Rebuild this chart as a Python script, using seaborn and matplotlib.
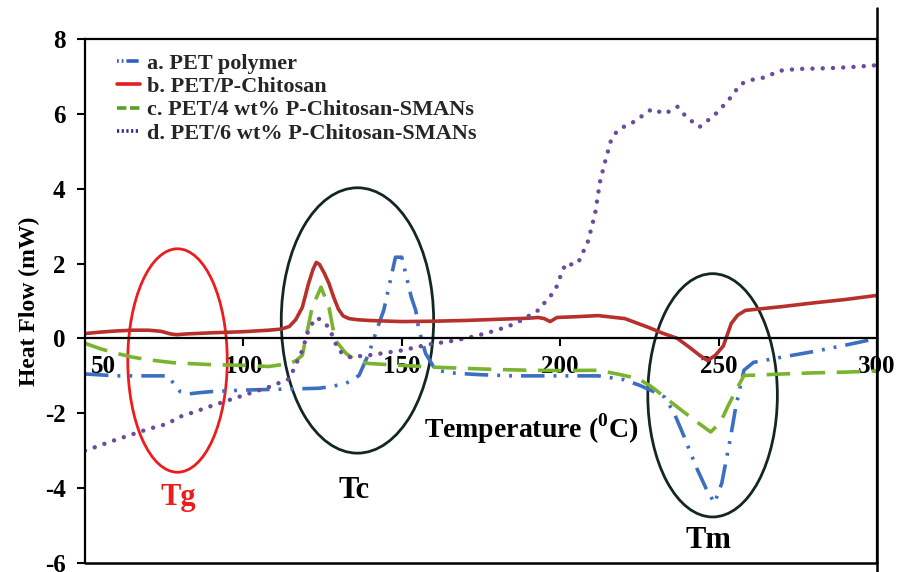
import matplotlib
matplotlib.use("Agg")
import matplotlib.pyplot as plt
import matplotlib.transforms as mtransforms
from matplotlib.patches import Ellipse
from matplotlib.lines import Line2D
import seaborn as sns

# ---------------- data ----------------
series_labels = ["a. PET polymer", "b. PET/P-Chitosan",
                 "c. PET/4 wt% P-Chitosan-SMANs", "d. PET/6 wt% P-Chitosan-SMANs"]

temp_a = [50, 60, 70, 76, 78, 80, 83, 86, 90, 100, 110, 120, 124, 128, 132.4, 136.5,
          139.6, 142.8, 144.3, 148, 150, 153, 154.4, 155.3, 157.5, 160.7, 167, 175, 185,
          200, 212, 220, 225, 229, 233, 236, 239, 243, 246, 248.7, 251, 253.8, 255.4,
          258, 261, 270, 280, 290, 300]
flow_a = [-0.95, -1.0, -1.0, -1.0, -1.2, -1.42, -1.48, -1.45, -1.42, -1.38, -1.36, -1.34,
          -1.33, -1.28, -1.2, -0.99, -0.4, 0.4, 0.75, 2.17, 2.17, 1.1, 0.75, 0.27, -0.4,
          -0.85, -0.93, -0.97, -1.0, -1.0, -1.0, -1.1, -1.25, -1.4, -1.57, -2.0, -2.6,
          -3.45, -4.0, -4.4, -3.87, -2.63, -1.84, -0.85, -0.64, -0.5, -0.35, -0.18, 0.0]

temp_b = [50, 55, 60, 65, 70, 74, 77, 79, 82, 90, 100, 108, 112, 114.5, 116.5, 118.6,
          120.5, 122, 123, 124, 125.5, 127, 128.5, 130, 131.5, 133.3, 136, 139.6, 150,
          160, 170, 180, 190, 193, 195, 196.8, 199, 205, 212, 220.4, 227.7, 232, 237,
          241, 244, 246.5, 249, 251.5, 254, 256, 258.5, 262, 270, 280, 290, 300]
flow_b = [0.13, 0.17, 0.2, 0.22, 0.22, 0.19, 0.12, 0.1, 0.12, 0.15, 0.18, 0.22, 0.25,
          0.32, 0.5, 0.83, 1.45, 1.85, 2.03, 1.98, 1.75, 1.47, 1.1, 0.78, 0.6, 0.53, 0.5,
          0.48, 0.45, 0.46, 0.48, 0.51, 0.54, 0.56, 0.53, 0.45, 0.56, 0.58, 0.61, 0.53,
          0.3, 0.15, 0.0, -0.25, -0.45, -0.59, -0.45, -0.2, 0.4, 0.62, 0.75, 0.78, 0.85,
          0.95, 1.04, 1.15]

temp_c = [50, 55, 60, 65, 70, 78, 85, 90, 100, 108, 114.5, 116.5, 118.6, 121.7, 124.5,
          127, 129, 132.4, 135.5, 139.6, 150, 160.7, 170, 180, 190, 200, 212, 218, 224.5,
          229, 233, 238, 242.5, 247.5, 250.6, 253, 255, 258, 262, 270, 280, 290, 300]
flow_c = [-0.13, -0.28, -0.4, -0.5, -0.57, -0.65, -0.68, -0.7, -0.72, -0.75, -0.67, -0.6,
          -0.45, 0.83, 1.37, 0.83, -0.05, -0.4, -0.59, -0.67, -0.72, -0.77, -0.8, -0.83,
          -0.85, -0.86, -0.85, -0.95, -1.07, -1.3, -1.57, -1.9, -2.19, -2.5, -2.24, -1.8,
          -1.47, -0.99, -0.98, -0.95, -0.92, -0.9, -0.87]

temp_d = [50, 60, 70, 76.5, 79, 85, 90, 100, 108, 114.5, 118.6, 120.8, 123.3, 127, 130,
          133.3, 139.6, 150, 158.5, 165, 170, 174, 180, 186, 193, 198.4, 201, 202.5, 204,
          206, 208.8, 211, 212.6, 214, 216, 218, 221, 223.6, 226.7, 229, 233, 237, 240,
          244, 248.5, 253, 257, 261, 265, 269, 275, 285, 292, 300]
flow_d = [-3.0, -2.7, -2.42, -2.27, -2.12, -1.95, -1.8, -1.52, -1.3, -1.08, -0.32, 0.3,
          0.56, 0.3, -0.32, -0.5, -0.45, -0.32, -0.16, -0.08, 0.0, 0.08, 0.22, 0.4, 0.75,
          1.28, 1.87, 2.03, 1.95, 2.08, 2.6, 3.33, 4.2, 4.67, 5.28, 5.55, 5.7, 5.8, 6.0,
          6.13, 6.0, 6.19, 5.9, 5.65, 5.95, 6.35, 6.8, 6.92, 6.98, 7.15, 7.2, 7.22, 7.25,
          7.3]

x_ticks = [50, 100, 150, 200, 250, 300]
y_ticks = [-6, -4, -2, 0, 2, 4, 6, 8]

# ---------------- style ----------------
sns.set_theme(style="white")
plt.rcParams["font.family"] = ["Liberation Serif", "DejaVu Serif"]
plt.rcParams["font.weight"] = "bold"
plt.rcParams["axes.unicode_minus"] = False
plt.rcParams["mathtext.fontset"] = "custom"
plt.rcParams["mathtext.rm"] = "Liberation Serif:bold"
plt.rcParams["mathtext.bf"] = "Liberation Serif:bold"

W, H = 907, 572
fig = plt.figure(figsize=(W / 100, H / 100), dpi=100)
ax = fig.add_axes([85 / W, 1 - 563 / H, (877 - 85) / W, (563 - 39) / H])

colors = ["#3b6fc0", "#b8302c", "#7ab32e", "#6a4c9c"]
styles = [(0, (6.5, 2.5, 0.8, 2.5, 0.8, 2.5)), "-", (0, (6.5, 3.2)), (0, (0.01, 2.3))]
data = [(temp_a, flow_a), (temp_b, flow_b), (temp_c, flow_c), (temp_d, flow_d)]
for (tx, fy), col, ls, lab in zip(data, colors, styles, series_labels):
    sns.lineplot(x=tx, y=fy, ax=ax, color=col, linestyle=ls, linewidth=2.6,
                 label=lab, sort=False)
ax.lines[3].set_dash_capstyle("round")
ax.lines[3].set_linewidth(3.2)

ax.set_xlim(50, 300)
ax.set_ylim(-6, 8)
ax.set_xticks(x_ticks)
ax.set_yticks(y_ticks)
ax.set_xticklabels([str(v) for v in x_ticks])
ax.set_yticklabels([str(v) for v in y_ticks])

for side in ["left", "top", "right", "bottom"]:
    ax.spines[side].set_visible(True)
    ax.spines[side].set_color("black")
    ax.spines[side].set_linewidth(1.6)
ax.spines["bottom"].set_position(("data", 0))
ax.axhline(-6, color="black", lw=1.8, clip_on=False, zorder=3)
fig.add_artist(Line2D([877 / W, 877 / W], [1 - 8 / H, 0], transform=fig.transFigure,
                      color="black", lw=1.8))

ax.tick_params(axis="x", direction="out", length=6, width=1.5, pad=6, labelsize=18,
               bottom=True, colors="black")
ax.tick_params(axis="y", direction="out", length=6, width=1.5, pad=8, labelsize=18,
               left=True, colors="black")
for lbl in ax.get_xticklabels() + ax.get_yticklabels():
    lbl.set_fontweight("bold")
first = ax.get_xticklabels()[0]
first.set_transform(first.get_transform() +
                    mtransforms.ScaledTranslation(0.18, 0, fig.dpi_scale_trans))

ax.set_xlabel("")
ax.set_ylabel("Heat Flow (mW)", fontsize=17, fontweight="bold", color="black")
ax.yaxis.set_label_coords(-0.057, 0.5)

# legend
leg = ax.legend(loc="upper left", bbox_to_anchor=(117 / W, 1 - 53 / H),
                bbox_transform=fig.transFigure, frameon=False, fontsize=16,
                handlelength=1.05, handletextpad=0.3, labelspacing=0.13,
                borderpad=0, borderaxespad=0)
for t in leg.get_texts():
    t.set_fontweight("bold")
leg_cols = ["#2f5fc0", "#e41e1e", "#5aa020", "#2b2a80"]
leg_styles = [(0, (0.5, 0.8, 0.5, 0.8, 3.4, 1.0)), "-", (0, (2.6, 1.0)),
              (0, (0.6, 0.7))]
for hl, c, s in zip(leg.get_lines(), leg_cols, leg_styles):
    hl.set_color(c)
    hl.set_linewidth(2.6)
    hl.set_linestyle(s)
    hl.set_dash_capstyle("butt")

# annotation ellipses
ax.add_patch(Ellipse((79.2, -0.59), 31.4, 5.97, fill=False, edgecolor="#ee1c1c", lw=2))
ax.add_patch(Ellipse((136.0, 0.48), 48.1, 7.09, fill=False, edgecolor="#132626", lw=2))
ax.add_patch(Ellipse((248.1, -1.52), 40.9, 6.5, fill=False, edgecolor="#132626", lw=2))

ax.text(79.5, -4.45, "Tg", color="#ee1c1c", fontsize=22, fontweight="bold",
        ha="center", va="baseline")
ax.text(134.9, -4.27, "Tc", color="black", fontsize=22, fontweight="bold",
        ha="center", va="baseline")
ax.text(246.9, -5.6, "Tm", color="black", fontsize=22, fontweight="bold",
        ha="center", va="baseline")
ax.text(190.9, -2.64, r"Temperature ($^{\mathbf{0}}$C)", color="black", fontsize=20,
        fontweight="bold", ha="center", va="baseline")

fig.savefig("out.png", dpi=100)
